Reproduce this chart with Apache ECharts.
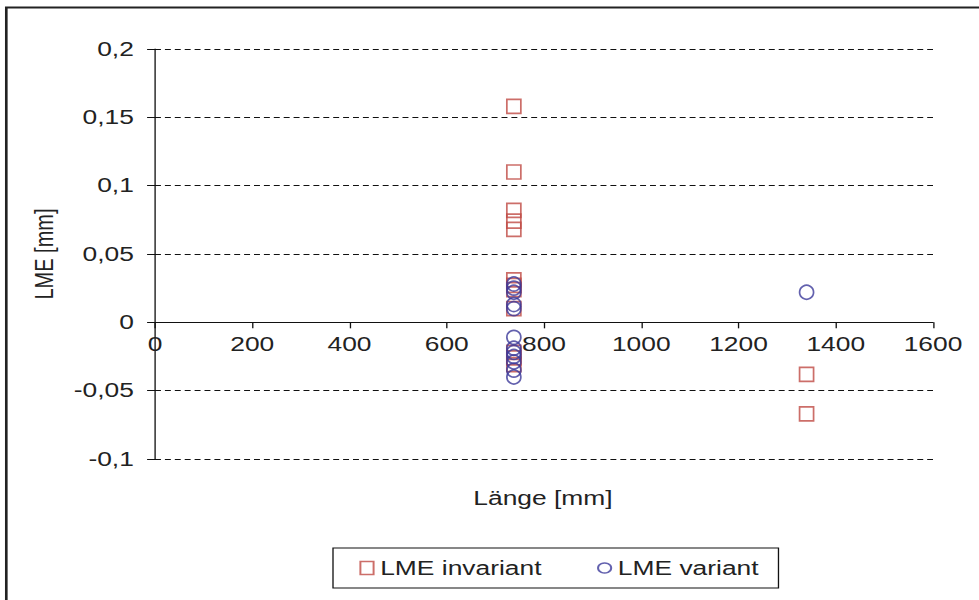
<!DOCTYPE html>
<html>
<head>
<meta charset="utf-8">
<script src="https://cdn.jsdelivr.net/npm/echarts@6/dist/echarts.min.js"></script>
<style>
html,body{margin:0;padding:0;background:#fff;overflow:hidden;}
#c{width:742px;height:600px;transform:scaleX(1.32);transform-origin:0 0;}
</style>
</head>
<body>
<div id="c"></div>
<script>
// Data
const seriesNames = ['LME invariant', 'LME variant'];
const xTickLabels = [0, 200, 400, 600, 800, 1000, 1200, 1400, 1600];
const yTickLabels = ['-0,1', '-0,05', '0', '0,05', '0,1', '0,15', '0,2'];
const invariantX = [738, 738, 738, 738, 738, 738, 738, 738, 738, 738, 738, 738, 1340, 1340];
const invariantY = [0.158, 0.110, 0.082, 0.074, 0.068, 0.031, 0.027, 0.024, 0.010, -0.022, -0.026, -0.031, -0.038, -0.067];
const variantX = [738, 738, 738, 738, 738, 738, 738, 738, 738, 738, 738, 738, 1340];
const variantY = [0.028, 0.025, 0.022, 0.013, 0.010, -0.011, -0.019, -0.022, -0.025, -0.029, -0.035, -0.040, 0.022];

const S = 1.32; // horizontal stretch of the page
const red = '#bf4a43', blue = '#3c3a9a';
const font = 'Liberation Sans, Arial, sans-serif';
const yMin = -0.1, yMax = 0.2;
const plotTop = 49, plotBottom = 459;
// put the x axis on y = 0
const xAxisOffset = -(plotBottom - plotTop) * (0 - yMin) / (yMax - yMin);

const chart = echarts.init(document.getElementById('c'), null, {renderer: 'svg'});
chart.setOption({
  backgroundColor: '#fff',
  animation: false,
  grid: {left: 155 / S, right: 742 - 933 / S, top: plotTop, bottom: 600 - plotBottom},
  xAxis: {
    type: 'value', min: 0, max: 1600, interval: 200,
    position: 'bottom', offset: xAxisOffset,
    axisLine: {onZero: false, lineStyle: {color: '#111', width: 1}},
    axisTick: {show: true, inside: false, length: 6, lineStyle: {color: '#111'}},
    axisLabel: {color: '#222', fontSize: 20, fontFamily: font, margin: 12,
      formatter: v => xTickLabels.includes(v) ? String(v) : ''},
    splitLine: {show: false}
  },
  yAxis: {
    type: 'value', min: yMin, max: yMax, interval: 0.05,
    name: 'LME [mm]', nameLocation: 'middle', nameGap: 74,
    nameTextStyle: {color: '#222', fontSize: 20, fontFamily: font},
    axisLine: {show: true, lineStyle: {color: '#111', width: 1}},
    axisTick: {show: true, length: 6, lineStyle: {color: '#111'}},
    axisLabel: {color: '#222', fontSize: 20, fontFamily: font, margin: 16,
      formatter: v => { const s = String(+v.toFixed(2)).replace('.', ','); return yTickLabels.includes(s) ? s : ''; }},
    splitLine: {show: true, lineStyle: {color: '#111', width: 1, type: [4.5, 3]}}
  },
  legend: {
    left: 333 / S, top: 548,
    padding: [10, 15, 10, 20],
    borderColor: '#111', borderWidth: 1,
    itemGap: 42, itemWidth: 10, itemHeight: 13,
    textStyle: {color: '#222', fontSize: 20, fontFamily: font},
    data: [
      {name: seriesNames[0], icon: 'rect', itemStyle: {color: 'rgba(0,0,0,0)', borderColor: red, borderWidth: 1.5}},
      {name: seriesNames[1], icon: 'circle', itemStyle: {color: 'rgba(0,0,0,0)', borderColor: blue, borderWidth: 1.5}}
    ]
  },
  graphic: [
    {type: 'rect', left: 3 / S, top: 5, shape: {x: 0, y: 0, width: 1000, height: 1000},
      style: {fill: 'none', stroke: '#222', lineWidth: 2}, silent: true},
    {type: 'text', x: 543 / S, y: 498,
      style: {text: 'Länge [mm]', fill: '#222', font: '20px ' + font, textAlign: 'center', textVerticalAlign: 'middle'}}
  ],
  series: [
    {
      name: seriesNames[0], type: 'scatter', symbol: 'rect', symbolSize: [14 / S, 14],
      itemStyle: {color: 'rgba(255,255,255,0)', borderColor: red, borderWidth: 1.5},
      data: invariantX.map((x, i) => [x, invariantY[i]])
    },
    {
      name: seriesNames[1], type: 'scatter', symbol: 'circle', symbolSize: [14 / S, 14],
      itemStyle: {color: 'rgba(255,255,255,0)', borderColor: blue, borderWidth: 1.5},
      data: variantX.map((x, i) => [x, variantY[i]])
    }
  ]
});
</script>
</body>
</html>
